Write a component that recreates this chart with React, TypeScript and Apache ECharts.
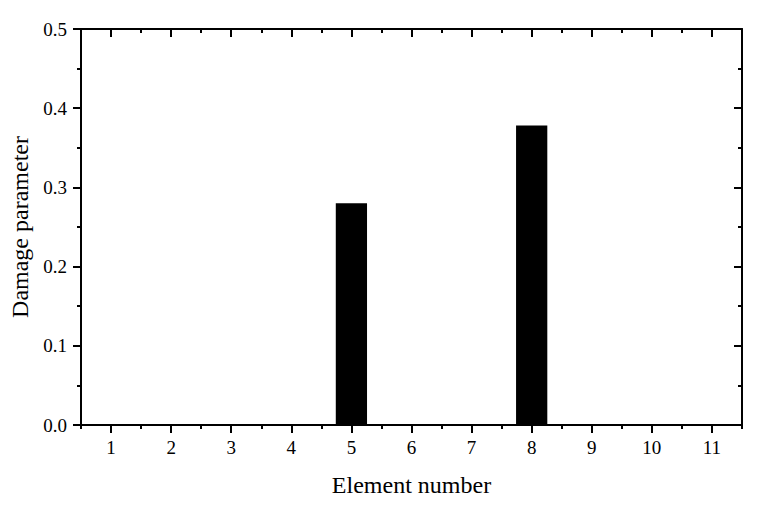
import React, { useEffect, useRef } from "react";
import * as echarts from "echarts";

const categories = ["1", "2", "3", "4", "5", "6", "7", "8", "9", "10", "11"];
const damageValues = [0, 0, 0, 0, 0.28, 0, 0, 0.378, 0, 0, 0];
const yTickLabels = ["0.0", "0.1", "0.2", "0.3", "0.4", "0.5"];

const FONT = "'Liberation Serif', 'Times New Roman', serif";

export default function App() {
  const ref = useRef<HTMLDivElement>(null);
  useEffect(() => {
    if (!ref.current) return;
    const chart = echarts.init(ref.current, null, { renderer: "svg" });
    const line = { color: "#000", width: 2 };
    const baseX = (extra: any) => ({
      type: "category",
      data: categories,
      boundaryGap: true,
      axisLine: { show: true, lineStyle: line },
      splitLine: { show: false },
      axisLabel: { show: false },
      ...extra,
    });
    chart.setOption({
      animation: false,
      backgroundColor: "#fff",
      grid: { left: 81, right: 23, top: 29, bottom: 84, containLabel: false },
      xAxis: [
        baseX({
          position: "bottom",
          axisTick: { show: true, alignWithLabel: true, length: 8, inside: false, lineStyle: line },
          axisLabel: { show: true, fontSize: 19, fontFamily: FONT, color: "#000", margin: 13 },
          name: "Element number",
          nameLocation: "middle",
          nameGap: 48,
          nameTextStyle: { fontSize: 24, fontFamily: FONT, color: "#000" },
        }),
        baseX({
          position: "bottom",
          axisLine: { show: false },
          axisTick: { show: true, alignWithLabel: false, length: 4, inside: false, lineStyle: line },
        }),
        baseX({
          position: "top",
          axisTick: { show: true, alignWithLabel: true, length: 8, inside: true, lineStyle: line },
        }),
        baseX({
          position: "top",
          axisLine: { show: false },
          axisTick: { show: true, alignWithLabel: false, length: 4, inside: true, lineStyle: line },
        }),
      ],
      yAxis: [
        {
          type: "value",
          position: "left",
          min: 0,
          max: 0.5,
          interval: 0.1,
          axisLine: { show: true, lineStyle: line },
          axisTick: { show: true, length: 8, inside: false, lineStyle: line },
          minorTick: { show: true, splitNumber: 2, length: 4, lineStyle: line },
          splitLine: { show: false },
          minorSplitLine: { show: false },
          axisLabel: {
            fontSize: 19,
            fontFamily: FONT,
            color: "#000",
            margin: 14,
            formatter: (v: number) => yTickLabels[Math.round(v * 10)] ?? v.toFixed(1),
          },
          name: "Damage parameter",
          nameLocation: "middle",
          nameGap: 46,
          nameTextStyle: { fontSize: 24, fontFamily: FONT, color: "#000" },
        },
        {
          type: "value",
          position: "right",
          min: 0,
          max: 0.5,
          interval: 0.1,
          axisLine: { show: true, lineStyle: line },
          axisTick: { show: true, length: 8, inside: true, lineStyle: line },
          minorTick: { show: true, splitNumber: 2, length: 4, lineStyle: line },
          splitLine: { show: false },
          minorSplitLine: { show: false },
          axisLabel: { show: false },
        },
      ],
      series: [
        {
          type: "bar",
          xAxisIndex: 0,
          yAxisIndex: 0,
          data: damageValues,
          barWidth: "52%",
          itemStyle: { color: "#000" },
        },
      ],
    });
    return () => chart.dispose();
  }, []);
  return (
    <div
      ref={ref}
      style={{ position: "absolute", left: 0, top: 0, width: 765, height: 509 }}
    />
  );
}
